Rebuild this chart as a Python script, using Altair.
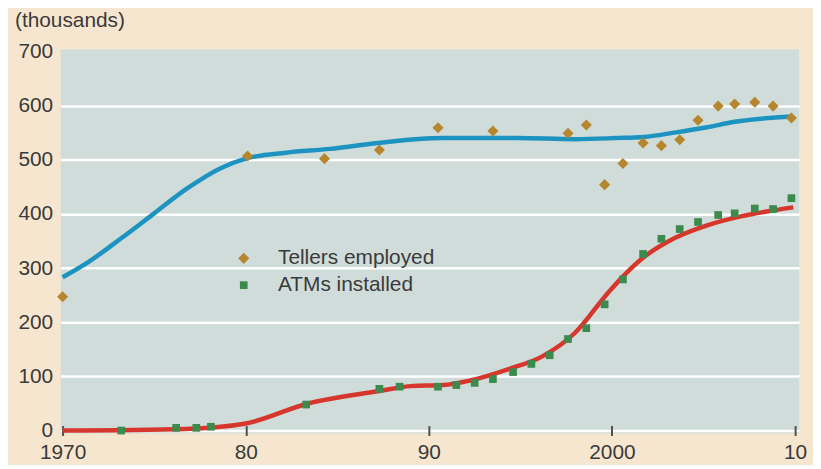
import altair as alt
import pandas as pd

# ---- data ----
teller_years = [1970.0, 1980.1, 1984.3, 1987.3, 1990.5, 1993.5, 1997.6, 1998.6, 1999.6, 2000.6,
                2001.7, 2002.7, 2003.7, 2004.7, 2005.8, 2006.7, 2007.8, 2008.8, 2009.8]
teller_vals = [247, 507, 502, 518, 559, 553, 549, 564, 454, 493,
               531, 526, 537, 573, 599, 603, 606, 599, 577]

atm_years = [1973.2, 1976.2, 1977.3, 1978.1, 1983.3, 1987.3, 1988.4, 1990.5, 1991.5, 1992.5,
             1993.5, 1994.6, 1995.6, 1996.6, 1997.6, 1998.6, 1999.6, 2000.6, 2001.7, 2002.7,
             2003.7, 2004.7, 2005.8, 2006.7, 2007.8, 2008.8, 2009.8]
atm_vals = [0, 5, 5, 7, 48, 77, 81, 81, 84, 88,
            95, 108, 123, 139, 169, 189, 233, 279, 326, 354,
            372, 385, 398, 401, 410, 409, 429]

teller_trend_years = [1970.0, 1971.4, 1973.2, 1975.0, 1976.8, 1978.6, 1980.0, 1982.2, 1984.6, 1987.2,
                      1990.8, 1994.8, 1998.0, 2000.2, 2001.7, 2003.4, 2005.2, 2006.7, 2009.8]
teller_trend_vals = [283, 311, 355, 401, 447, 484, 502, 513, 520, 531,
                     540, 540, 538, 540, 542, 550, 560, 570, 580]

atm_trend_years = [1970.0, 1976.7, 1980.0, 1983.4, 1987.3, 1989.0, 1990.8, 1992.2, 1994.4, 1996.2,
                   1998.0, 1999.8, 2000.7, 2001.7, 2003.4, 2005.2, 2007.1, 2008.9, 2009.9]
atm_trend_vals = [0, 3, 13, 50, 73, 82, 84, 92, 114, 137,
                  181, 255, 288, 319, 355, 379, 396, 407, 412]

series_names = ["Tellers employed", "ATMs installed"]
series_colors = ["#b5862e", "#3c8a4d"]
series_shapes = ["diamond", "square"]
series_sizes = [125, 60]
trend_colors = ["#1c93c0", "#d7362d"]

y_ticks = [0, 100, 200, 300, 400, 500, 600, 700]
x_tick_values = [1970, 1980, 1990, 2000, 2010]
x_tick_labels = ["1970", "80", "90", "2000", "10"]

FONT = "Liberation Sans"
TXT = "#3a3a3a"

# ---- tables ----
points = pd.concat([
    pd.DataFrame({"year": teller_years, "value": teller_vals, "series": series_names[0]}),
    pd.DataFrame({"year": atm_years, "value": atm_vals, "series": series_names[1]}),
])
teller_trend = pd.DataFrame({"year": teller_trend_years, "value": teller_trend_vals})
atm_trend = pd.DataFrame({"year": atm_trend_years, "value": atm_trend_vals})

label_expr = ""
for v, l in zip(x_tick_values, x_tick_labels):
    label_expr += f"datum.value == {v} ? '{l}' : "
label_expr += "''"

x_enc = alt.X(
    "year:Q",
    scale=alt.Scale(domain=[1969.89, 2010.22], nice=False, zero=False),
    axis=alt.Axis(
        values=x_tick_values, labelExpr=label_expr, title="",
        domain=False, grid=False, offset=-8, tickSize=10, tickWidth=2,
        tickColor="#505050", labelPadding=6, labelFontSize=21, labelFont=FONT,
        labelColor=TXT, labelFlush=False, labelOverlap=False,
    ),
)
y_enc = alt.Y(
    "value:Q",
    scale=alt.Scale(domain=[-5.5, 703.7], nice=False, zero=False),
    axis=alt.Axis(
        values=y_ticks, title="", domain=False, ticks=False, tickSize=0,
        labelPadding=8, labelFontSize=21, labelFont=FONT, labelColor=TXT,
        labelFlush=False, labelOverlap=False,
        grid=True, gridColor="white", gridWidth=2.5,
        gridOpacity={"condition": {"test": "datum.value == 700", "value": 0}, "value": 1},
    ),
)

blue = alt.Chart(teller_trend).mark_line(
    color=trend_colors[0], strokeWidth=4.5, interpolate="monotone"
).encode(x=x_enc, y=y_enc)
red = alt.Chart(atm_trend).mark_line(
    color=trend_colors[1], strokeWidth=4.5, interpolate="monotone"
).encode(x=x_enc, y=y_enc)

legend_opts = dict(
    title="", orient="none", legendX=174, legendY=200, padding=0,
    labelFontSize=21, labelFont=FONT, labelColor=TXT, labelOffset=24,
    rowPadding=5, symbolSize=60, symbolStrokeWidth=0,
)

pts = alt.Chart(points).mark_point(filled=True, opacity=1).encode(
    x=x_enc,
    y=y_enc,
    color=alt.Color(
        "series:N",
        scale=alt.Scale(domain=series_names, range=series_colors),
        legend=alt.Legend(**legend_opts),
    ),
    shape=alt.Shape(
        "series:N",
        scale=alt.Scale(domain=series_names, range=series_shapes),
        legend=alt.Legend(**legend_opts),
    ),
    size=alt.Size(
        "series:N",
        scale=alt.Scale(domain=series_names, range=series_sizes),
        legend=None,
    ),
)

chart = alt.layer(blue, red, pts).properties(
    width=744,
    height=387,
    autosize="none",
    padding={"left": 53, "top": 40, "right": 14, "bottom": 30},
    background="#f7e6cf",
    title=alt.TitleParams(
        text="(thousands)", anchor="start", frame="group", dx=-46, offset=10,
        fontSize=21, font=FONT, color=TXT, fontWeight="normal",
    ),
).configure_view(fill="#d0dcd9", strokeWidth=0)

chart.save("out.html", embed_options={"renderer": "svg", "actions": False})
